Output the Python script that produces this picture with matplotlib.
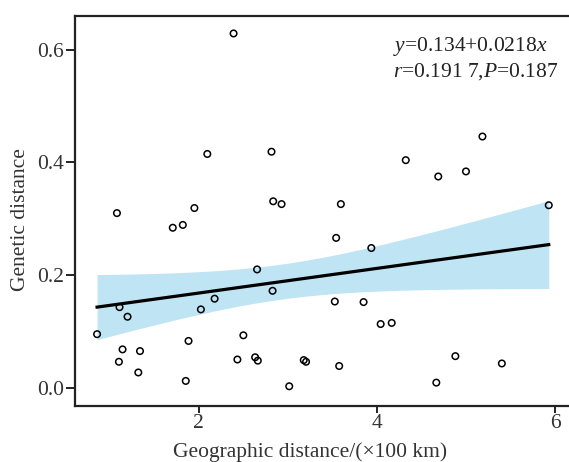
import numpy as np
import matplotlib
matplotlib.use("Agg")
import matplotlib.pyplot as plt

plt.rcParams['font.family'] = ['Liberation Serif', 'DejaVu Serif']
plt.rcParams['mathtext.fontset'] = 'custom'
plt.rcParams['mathtext.it'] = 'Liberation Serif:italic'
plt.rcParams['mathtext.rm'] = 'Liberation Serif'

geo_dist = [2.39, 2.095, 1.08, 1.95, 1.707, 1.82, 0.857, 1.109, 1.199, 1.143,
            1.339, 1.102, 1.32, 1.884, 1.853, 2.023, 2.177, 2.433, 2.50, 2.654,
            2.828, 2.632, 2.662, 3.178, 3.204, 3.015, 3.542, 3.937, 3.527, 3.85,
            4.042, 4.166, 3.576, 2.816, 2.835, 2.929, 3.595, 4.324, 4.689, 5.0,
            5.185, 5.93, 4.881, 5.403, 4.667]
gen_dist = [0.629, 0.415, 0.310, 0.319, 0.284, 0.289, 0.095, 0.143, 0.126, 0.068,
            0.065, 0.046, 0.027, 0.083, 0.012, 0.139, 0.158, 0.050, 0.093, 0.210,
            0.172, 0.054, 0.048, 0.049, 0.046, 0.0025, 0.266, 0.248, 0.153, 0.152,
            0.113, 0.115, 0.0385, 0.419, 0.331, 0.326, 0.326, 0.404, 0.375, 0.384,
            0.446, 0.324, 0.056, 0.043, 0.009]
eq_text = r'$y$=0.134+0.0218$x$'
stat_text = r'$r$=0.191 7,$P$=0.187'
x_label = 'Geographic distance/(×100 km)'
y_label = 'Genetic distance'
x_ticks = [2, 4, 6]
y_ticks = [0.0, 0.2, 0.4, 0.6]

x = np.array(geo_dist)
y = np.array(gen_dist)
n = len(x)
slope, intercept = np.polyfit(x, y, 1)
xs = np.linspace(x.min(), x.max(), 200)
ys = intercept + slope * xs
resid = y - (intercept + slope * x)
s = np.sqrt(np.sum(resid ** 2) / (n - 2))
sxx = np.sum((x - x.mean()) ** 2)
band_mult = 1.39
half = band_mult * s * np.sqrt(1.0 / n + (xs - x.mean()) ** 2 / sxx)

fig = plt.figure(figsize=(5.69, 4.62), dpi=100)
ax = fig.add_axes([75 / 569, 1 - 405.7 / 462, 1 - 75 / 569 + 0.002, (405.7 - 16) / 462])

ax.fill_between(xs, ys - half, ys + half, color='#bfe4f3', lw=0, zorder=1)
ax.plot(xs, ys, color='black', lw=2.3, zorder=2)
ax.scatter(x, y, s=22, facecolors='none', edgecolors='black', linewidths=1.1, zorder=3)

ax.set_xlim(0.609, 6.17)
ax.set_ylim(-0.032, 0.660)
ax.set_xticks(x_ticks)
ax.set_xticklabels([str(t) for t in x_ticks])
ax.set_yticks(y_ticks)
ax.set_yticklabels([f'{t:.1f}' for t in y_ticks])

for side in ['left', 'bottom', 'top']:
    ax.spines[side].set_linewidth(1.6)
    ax.spines[side].set_color('#222222')
ax.spines['right'].set_visible(False)
ax.tick_params(axis='both', direction='out', width=1.4, labelsize=15.5,
               colors='#222222', labelcolor='#333333')
ax.tick_params(axis='x', length=5, pad=1)
ax.tick_params(axis='y', length=6.5, pad=1.5)

ax.set_xlabel(x_label, fontsize=15.5, color='#333333')
ax.set_ylabel(y_label, fontsize=15.5, color='#333333')
ax.xaxis.set_label_coords(0.4757, -0.094)
ax.yaxis.set_label_coords(-0.090, 0.478)

fig.text(393 / 569, 1 - 47 / 462, eq_text, fontsize=15.5, ha='left', va='center', color='#222222')
fig.text(393 / 569, 1 - 72 / 462, stat_text, fontsize=15.5, ha='left', va='center', color='#222222')

fig.savefig('out.png', dpi=100)
